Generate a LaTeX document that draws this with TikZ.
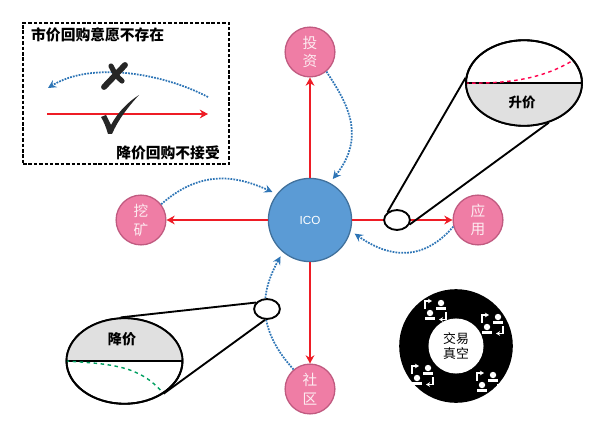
\documentclass[tikz,border=0pt]{standalone}
\usepackage{fontspec}
\setmainfont{Liberation Sans}
\newfontfamily\cjk{Noto Sans CJK SC}
\usetikzlibrary{arrows.meta,shapes.geometric}
\definecolor{icoblue}{HTML}{5B9BD5}
\definecolor{icoedge}{HTML}{41719C}
\definecolor{dotblue}{HTML}{2E75B6}
\definecolor{rosefill}{HTML}{EF7DA5}
\definecolor{roseedge}{HTML}{C05A80}
\definecolor{redline}{HTML}{EE1C25}
\tikzset{
  rosenode/.style={circle,draw=roseedge,fill=rosefill,line width=1.1pt,minimum size=42.5pt,inner sep=0pt,
    align=center,text=white!85!rosefill,font=\cjk\fontsize{12.5}{16}\selectfont},
  redarrow/.style={draw=redline,line width=2.2pt,-{Stealth[length=7pt,width=7.5pt]}},
  dotarrow/.style={draw=dotblue,line width=1.5pt,densely dotted,-{Stealth[length=7pt,width=7pt,inset=2.5pt]}},
  lens/.style={ellipse,draw,line width=1.6pt,inner sep=0pt},
  cone/.style={draw,line width=1.6pt},
  boxtext/.style={font=\cjk\bfseries\fontsize{12.6}{15}\selectfont,inner sep=0pt},
  userpair/.pic={
    \fill[white] (6,-7) circle (3.2);
    \fill[white] (1,-3.5) rectangle (11,-.5);
    \fill[white] (-5,3) circle (3.2);
    \fill[white] (-10,6.5) rectangle (0,9.5);
    \draw[white,line width=1.1pt,-{Stealth[length=3.5pt,width=4pt]}] (-10,-1) -- (-10,-9) -- (-3,-9);
    \draw[white,line width=1.1pt,-{Stealth[length=3.5pt,width=4pt]}] (11,2) -- (11,9.5) -- (4,9.5);
  }
}
\begin{document}
\begin{tikzpicture}[x=0.03cm,y=-0.03cm]
  \useasboundingbox (0,0) rectangle (600,427);

  % legend box
  \node[draw,dash pattern=on 3pt off 1.6pt,line width=1.6pt,minimum width=6.18cm,minimum height=4.23cm,inner sep=0pt] (legend) at (126,93.5) {};
  \node[boxtext,anchor=west] (topnote) at (31,35) {市价回购意愿不存在};
  \node[boxtext,anchor=east] (lownote) at (220,153) {降价回购不接受};
  \coordinate (dotstart) at (208,97);
  \coordinate (dotend) at (48,88);
  \coordinate (redstart) at (47,114);
  \coordinate (redend) at (208,114);
  \draw[dotarrow] (dotstart) .. controls (160,72) and (90,62) .. (dotend);
  \draw[redarrow,line width=1.5pt] (redstart) -- (redend);
  \draw[line width=5pt,line cap=round,black!85] (104,87) -- (125,65);
  \draw[line width=4.4pt,line cap=round,black!85] (111,66) .. controls (114,72) and (117,77) .. (122,81);
  \fill[black!85] (101,117) -- (106,115) -- (111,125) .. controls (118,112) and (128,102) .. (139,95)
    .. controls (128,107) and (118,120) .. (112,134) -- (108,134) .. controls (106,127) and (104,122) .. (101,117) -- cycle;

  % main circles
  \node[circle,draw=icoedge,fill=icoblue,line width=1.1pt,minimum size=71pt,inner sep=0pt,text=white,font=\fontsize{10}{12}\selectfont] (ico) at (310,220) {ICO};
  \node[rosenode] (touzi) at (310,52) {投\\资};
  \node[rosenode] (wakuang) at (141,220) {挖\\矿};
  \node[rosenode] (yingyong) at (478,220) {应\\用};
  \node[rosenode] (shequ) at (310,389) {社\\区};

  \draw[redarrow] (ico) -- (touzi);
  \draw[redarrow] (ico) -- (wakuang);
  \draw[redarrow] (ico) -- (yingyong);
  \draw[redarrow] (ico) -- (shequ);

  \draw[dotarrow,shorten >=4pt] (touzi.-50) .. controls (345,100) and (368,135) .. (ico.62);
  \draw[dotarrow,shorten >=4pt] (wakuang.38) .. controls (200,170) and (235,175) .. (ico.142);
  \draw[dotarrow,shorten >=4pt] (yingyong.195) .. controls (420,265) and (385,255) .. (ico.-15);
  \draw[dotarrow,shorten >=4pt] (shequ.130) .. controls (262,335) and (256,300) .. (ico.-130);

  % price up
  \node[lens,fill=white,minimum width=22pt,minimum height=17pt] (smallup) at (397,220) {};
  \node[lens,minimum width=99pt,minimum height=73pt] (bigup) at (524,83) {};
  \begin{scope}
    \clip (524,83) ellipse (58 and 43);
    \fill[black!12] (460,83) rectangle (590,130);
  \end{scope}
  \draw[line width=1.6pt] (bigup.west) -- (bigup.east);
  \draw[dashed,line width=1.2pt,draw=red!70!magenta] (bigup.west) .. controls (510,84) and (545,78) .. (bigup.25);
  \node[lens,minimum width=99pt,minimum height=73pt] at (524,83) {};
  \node[font=\cjk\bfseries\fontsize{11.5}{13}\selectfont,inner sep=0pt] (upnote) at (522,102) {升价};
  \draw[cone] (smallup.140) -- (bigup.175);
  \draw[cone] (smallup.-20) -- (bigup.-58);

  % price down
  \node[lens,fill=white,minimum width=22pt,minimum height=17pt] (smalldown) at (267,309) {};
  \node[lens,minimum width=99pt,minimum height=73pt] (bigdown) at (124.5,361) {};
  \begin{scope}
    \clip (124.5,361) ellipse (58 and 43);
    \fill[black!12] (60,310) rectangle (190,361);
  \end{scope}
  \draw[line width=1.6pt] (bigdown.west) -- (bigdown.east);
  \draw[dashed,line width=1.2pt,draw=teal!75!green] (bigdown.west) .. controls (110,364) and (140,365) .. (bigdown.-40);
  \node[lens,minimum width=99pt,minimum height=73pt] at (124.5,361) {};
  \node[font=\cjk\bfseries\fontsize{12}{14}\selectfont,inner sep=0pt] (downnote) at (122,339) {降价};
  \draw[cone] (smalldown.150) -- (bigdown.95);
  \draw[cone] (smalldown.-100) -- (bigdown.-40);

  % vacuum ring
  \node[circle,fill=black,minimum size=97pt,inner sep=0pt] (ring) at (456,346) {};
  \node[circle,fill=white,minimum size=47pt,inner sep=0pt,align=center,font=\cjk\fontsize{11}{13.5}\selectfont] (hole) at (456,346) {交易\\真空};
  \pic at (435,310) {userpair};
  \pic at (492,324) {userpair};
  \pic at (487,382) {userpair};
  \pic at (422,375) {userpair};
\end{tikzpicture}
\end{document}
